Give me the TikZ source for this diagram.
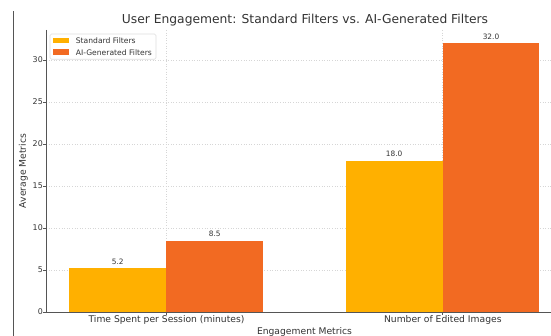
\documentclass[tikz,border=0pt]{standalone}
\usepackage{fontspec}
\setmainfont{DejaVu Sans}
\definecolor{stdc}{HTML}{FFB000}
\definecolor{aic}{HTML}{F26A22}
\definecolor{txt}{HTML}{333333}
\definecolor{gridc}{HTML}{D6D6D6}
\definecolor{spinec}{HTML}{555555}
\definecolor{legc}{HTML}{DDDDDD}
\tikzset{
  gridline/.style={gridc, line width=0.6pt, dotted},
  spineline/.style={spinec, line width=0.9pt},
  tickmark/.style={spinec, line width=0.7pt},
  ytick/.style={anchor=east, inner sep=0pt, text=txt, font=\fontsize{7.9}{9}\selectfont},
  xtick/.style={anchor=center, inner sep=0pt, text=txt, font=\fontsize{9.2}{11}\selectfont},
  barlabel/.style={anchor=base, inner sep=0pt, text=txt, font=\fontsize{7.4}{9}\selectfont},
  axlabel/.style={anchor=center, inner sep=0pt, text=txt, font=\fontsize{9.2}{11}\selectfont},
  legtext/.style={anchor=west, inner sep=0pt, text=txt, font=\fontsize{7.6}{9}\selectfont},
}
\begin{document}
\begin{tikzpicture}[x=1pt,y=-1pt]
\useasboundingbox (0,0) rectangle (551,336);
\fill[white] (0,0) rectangle (551,336);
% outer left rule
\draw[spinec, line width=0.9pt] (13,11.5) -- (13,336);
% title
\node[anchor=center, inner sep=0pt, text=txt, font=\fontsize{12.3}{14}\selectfont] (title) at (305,20) {User Engagement: Standard Filters vs. AI-Generated Filters};
% grid
\foreach \v in {0,5,10,15,20,25,30} {
  \draw[gridline] (46,{312-\v*8.4}) -- (551,{312-\v*8.4});
}
\draw[gridline] (166.3,30) -- (166.3,312);
\draw[gridline] (442.7,30) -- (442.7,312);
% bars
\fill[stdc] (69.3,{312-5.2*8.4}) rectangle (166.3,312);
\fill[aic] (166.3,{312-8.5*8.4}) rectangle (263.3,312);
\fill[stdc] (345.7,{312-18*8.4}) rectangle (442.7,312);
\fill[aic] (442.7,{312-32*8.4}) rectangle (539.3,312);
% bar labels
\node[barlabel] (l1) at (117.8,{312-5.2*8.4-4}) {5.2};
\node[barlabel] (l2) at (214.8,{312-8.5*8.4-4}) {8.5};
\node[barlabel] (l3) at (394.2,{312-18*8.4-4}) {18.0};
\node[barlabel] (l4) at (491.0,{312-32*8.4-4}) {32.0};
% spines
\draw[spineline] (46,30) -- (46,312) -- (551,312);
% y ticks
\foreach \v in {0,5,10,15,20,25,30} {
  \draw[tickmark] (43.3,{312-\v*8.4}) -- (46,{312-\v*8.4});
  \node[ytick] (yt\v) at (43,{312-\v*8.4}) {\v};
}
% x ticks
\draw[tickmark] (166.3,312) -- (166.3,314.7);
\draw[tickmark] (442.7,312) -- (442.7,314.7);
\node[xtick] (xt1) at (166.5,319.5) {Time Spent per Session (minutes)};
\node[xtick] (xt2) at (442.8,319.5) {Number of Edited Images};
% axis labels
\node[axlabel] (xlab) at (304.5,331.5) {Engagement Metrics};
\node[axlabel, rotate=90] (ylab) at (23.3,171) {Average Metrics};
% legend
\draw[legc, fill=white, line width=0.6pt, rounded corners=1.5pt] (50,34) rectangle (156,59.3);
\fill[stdc] (52.7,37.6) rectangle (69,43);
\fill[aic] (52.7,49.4) rectangle (69,54.8);
\node[legtext] (leg1) at (75.7,40.4) {Standard Filters};
\node[legtext] (leg2) at (75.7,52.2) {AI-Generated Filters};
\end{tikzpicture}
\end{document}
